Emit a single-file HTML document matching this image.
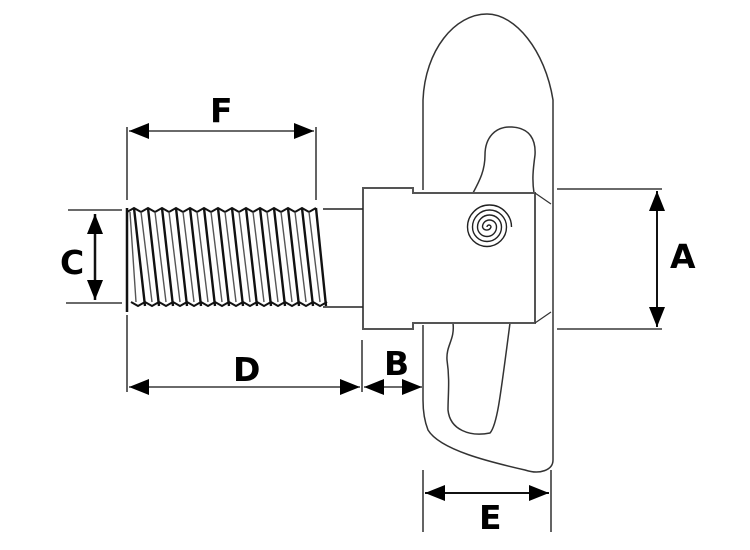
<!DOCTYPE html>
<html><head><style>body{margin:0;background:#fff}svg{display:block}text{font-family:"DejaVu Sans","Liberation Sans",sans-serif;font-weight:bold;font-size:33px;fill:#000}</style></head>
<body>
<svg width="750" height="550" viewBox="0 0 750 550" xmlns="http://www.w3.org/2000/svg">
<defs>
<marker id="ab" markerWidth="20" markerHeight="16" refX="20" refY="8" orient="auto-start-reverse" markerUnits="userSpaceOnUse"><path d="M0,0 L20,8 L0,16z" fill="#000"/></marker>
</defs>
<g fill="none" stroke="#333" stroke-width="1.5">
<path d="M423,190 L423,100 C425,50 455,14 487,14 C515,14 545,50 553,100 L553,460 C553,470 540,475 525,470 C490,462 440,450 428,430 C424,420 423,410 423,400 L423,325"/>
<path d="M473,193 C480,180 485,170 485,155 C485,138 495,126 512,127 C530,128 536,140 535,155 C533,170 532,180 534,193"/>
<path d="M453,323 C455,340 446,345 447,360 C450,380 448,395 448,410 C450,430 470,437 490,433 C497,425 500,400 510,323"/>
<path d="M363,188 L413,188 L413,193 L535,193 L535,323 L413,323 L413,329 L363,329 Z" fill="#fff" stroke="#555" stroke-width="2"/>
<path d="M535,193 L551,204 M535,323 L551,312" stroke-width="1.2"/>
<path d="M323,209 L363,209 M323,307 L363,307" stroke="#222"/>
</g>
<g fill="none" stroke="#222" stroke-width="1.4">
<path d="M487,227 a2,2 0 0 1 4,0 a4.5,4.5 0 0 1 -8.5,0 a7,7 0 0 1 14,0 a9.5,9.5 0 0 1 -19,0 a12,12 0 0 1 24,0 a14.5,14.5 0 0 1 -29,0 a17,17 0 0 1 34,0 a19.5,19.5 0 0 1 -39,0 a22,22 0 0 1 44,0"/>
</g>
<g fill="none" stroke="#111" stroke-width="2">
<path d="M127,208 L127,312" stroke-width="2.5"/>
<path d="M127,212 l7,-4 l7,4 l7,-4 l7,4 l7,-4 l7,4 l7,-4 l7,4 l7,-4 l7,4 l7,-4 l7,4 l7,-4 l7,4 l7,-4 l7,4 l7,-4 l7,4 l7,-4 l7,4 l7,-4 l7,4 l7,-4 l7,4 l7,-4 l7,4 l7,-4"/>
<path d="M131,302 l7,4 l7,-4 l7,4 l7,-4 l7,4 l7,-4 l7,4 l7,-4 l7,4 l7,-4 l7,4 l7,-4 l7,4 l7,-4 l7,4 l7,-4 l7,4 l7,-4 l7,4 l7,-4 l7,4 l7,-4 l7,4 l7,-4 l7,4 l7,-4 l7,4 l7,-4"/>
<path d="M134,208 L145,306 M148,208 L159,306 M162,208 L173,306 M176,208 L187,306 M190,208 L201,306 M204,208 L215,306 M218,208 L229,306 M232,208 L243,306 M246,208 L257,306 M260,208 L271,306 M274,208 L285,306 M288,208 L299,306 M302,208 L313,306 M316,208 L326,306" stroke-width="2.4"/>
<path d="M130,212 L136,302 M141,212 L152,302 M155,212 L166,302 M169,212 L180,302 M183,212 L194,302 M197,212 L208,302 M211,212 L222,302 M225,212 L236,302 M239,212 L250,302 M253,212 L264,302 M267,212 L278,302 M281,212 L292,302 M295,212 L306,302 M309,212 L320,302" stroke="#555" stroke-width="1.4"/>
</g>
<g stroke="#111" stroke-width="1.3" fill="none">
<path d="M127,127 L127,200 M316,127 L316,200"/>
<path d="M129,131 L314,131" marker-start="url(#ab)" marker-end="url(#ab)"/>
<path d="M68,210 L122,210 M66,303 L122,303"/>
<path d="M95,214 L95,300" stroke-width="2.5" marker-start="url(#ab)" marker-end="url(#ab)"/>
<path d="M127,315 L127,392 M362,340 L362,392"/>
<path d="M129,387 L360,387" marker-start="url(#ab)" marker-end="url(#ab)"/>
<path d="M364,387 L422,387" marker-start="url(#ab)" marker-end="url(#ab)"/>
<path d="M557,189 L662,189 M557,329 L662,329"/>
<path d="M657,191 L657,327" stroke-width="2" marker-start="url(#ab)" marker-end="url(#ab)"/>
<path d="M423,470 L423,532 M551,470 L551,532"/>
<path d="M425,493 L549,493" stroke-width="2" marker-start="url(#ab)" marker-end="url(#ab)"/>
</g>
<text x="210" y="122">F</text>
<text x="60" y="274">C</text>
<text x="233" y="381">D</text>
<text x="384" y="375">B</text>
<text x="670" y="268">A</text>
<text x="479" y="529">E</text>
</svg>
</body></html>
